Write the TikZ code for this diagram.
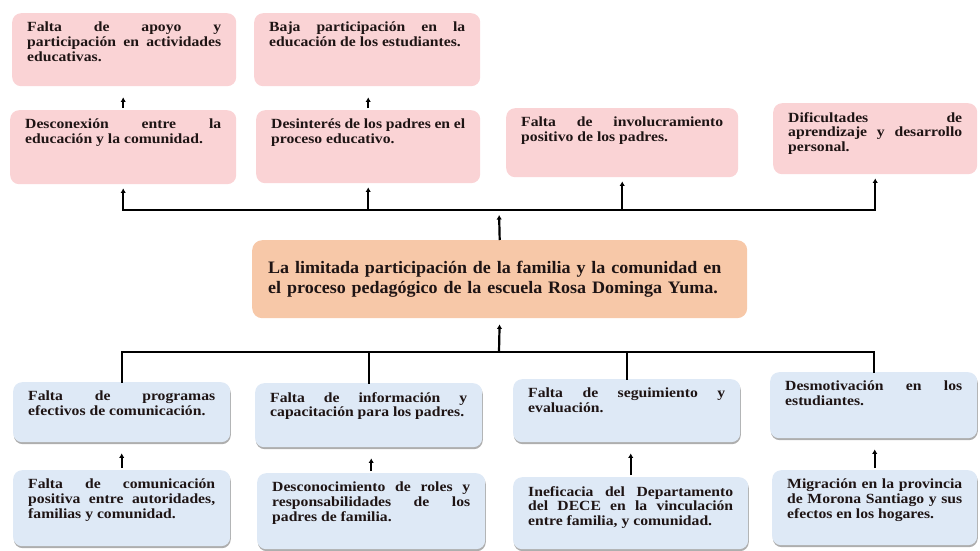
\documentclass[tikz,border=0pt]{standalone}
\usepackage{fontspec}
\setmainfont{Liberation Serif}[FakeStretch=1.12]
\newfontfamily\titulo{Liberation Serif}[FakeStretch=1.03]
\usetikzlibrary{arrows.meta,shadows}

\definecolor{rosa}{RGB}{250,211,213}
\definecolor{celeste}{RGB}{222,233,246}
\definecolor{durazno}{RGB}{247,200,168}
\definecolor{tinta}{RGB}{30,20,20}

\hyphenpenalty=10000
\newcommand{\caja}[3]{\parbox[c][#2][t]{#1}{#3}}

\tikzset{
  cuadro/.style={rounded corners=9pt, inner xsep=15pt, inner ysep=9pt, anchor=north west,
    text=tinta, font=\bfseries\fontsize{14}{14.8}\selectfont},
  efecto/.style={cuadro, fill=rosa},
  causa/.style={cuadro, fill=celeste,
    drop shadow={shadow xshift=0.6pt, shadow yshift=-2pt, fill=black!45, opacity=0.7}},
  problema/.style={fill=durazno, rounded corners=10pt, inner xsep=16pt, anchor=north west,
    text=tinta, text width=463pt, minimum height=78pt, align=left,
    font=\titulo\bfseries\fontsize{17.5}{20}\selectfont},
  flecha/.style={-{Latex[length=4.5pt,width=5.5pt]}, line width=2.2pt},
  barra/.style={line width=1.6pt, line cap=rect}
}

\begin{document}
\begin{tikzpicture}[x=1pt,y=-1pt]
  \useasboundingbox (0,0) rectangle (980,551);

  \node[efecto] (a1) at (12,13) {\caja{194pt}{55pt}{Falta de apoyo y\linebreak participación en actividades\linebreak educativas.}};
  \node[efecto] (a2) at (254,13) {\caja{196pt}{55pt}{Baja participación en la\linebreak educación de los estudiantes.}};

  \node[efecto] (b1) at (10,110) {\caja{196pt}{56pt}{Desconexión entre la\linebreak educación y la comunidad.}};
  \node[efecto] (b2) at (256,110) {\caja{194pt}{55pt}{Desinterés de los padres en el\linebreak proceso educativo.}};
  \node[efecto] (b3) at (506,108) {\caja{202pt}{51pt}{Falta de involucramiento\linebreak positivo de los padres.}};
  \node[efecto] (b4) at (773,103) {\caja{174pt}{53pt}{Dificultades de\linebreak aprendizaje y desarrollo\linebreak personal.}};

  \node[problema] (prob) at (252,240) {La limitada participación de la familia y la comunidad en\\
    el proceso pedagógico de la escuela Rosa Dominga Yuma.};

  \node[causa] (c1) at (13,382) {\caja{187pt}{42pt}{Falta de programas\linebreak efectivos de comunicación.}};
  \node[causa] (c2) at (255,383) {\caja{197pt}{46pt}{Falta de información y\linebreak capacitación para los padres.}};
  \node[causa] (c3) at (513,379) {\caja{197pt}{45pt}{Falta de seguimiento y\linebreak evaluación.}};
  \node[causa] (c4) at (770,372) {\caja{177pt}{48pt}{Desmotivación en los\linebreak estudiantes.}};

  \node[causa] (d1) at (13,470) {\caja{187pt}{58pt}{Falta de comunicación\linebreak positiva entre autoridades,\linebreak familias y comunidad.}};
  \node[causa] (d2) at (257,473) {\caja{198pt}{58pt}{Desconocimiento de roles y\linebreak responsabilidades de los\linebreak padres de familia.}};
  \node[causa] (d3) at (513,477) {\caja{205pt}{54pt}{Ineficacia del Departamento\linebreak del DECE en la vinculación\linebreak entre familia, y comunidad.}};
  \node[causa] (d4) at (772,470) {\caja{175pt}{57pt}{Migración en la provincia\linebreak de Morona Santiago y sus\linebreak efectos en los hogares.}};

  \coordinate (barraSup) at (499,210);
  \coordinate (barraInf) at (499,352);

  \draw[barra] (b1.south |- barraSup) -- (b4.south |- barraSup);
  \foreach \n in {b1,b2,b3,b4} {
    \draw[flecha, shorten >=4pt] (\n.south |- barraSup) -- (\n.south);
  }
  \draw[flecha, shorten >=5pt] (prob.north) -- (barraSup);

  \draw[barra] (c1.north) |- (barraInf) -| (c4.north);
  \foreach \n in {c2,c3} {
    \draw[barra] (\n.north |- barraInf) -- (\n.north);
  }
  \draw[flecha, shorten >=6pt] (barraInf) -- (prob.south);

  \foreach \a/\b in {b1/a1,b2/a2,d1/c1,d2/c2,d3/c3,d4/c4} {
    \draw[flecha, shorten <=2pt, shorten >=11pt] (\a.north) -- (\a.north |- \b.south);
  }
\end{tikzpicture}
\end{document}
